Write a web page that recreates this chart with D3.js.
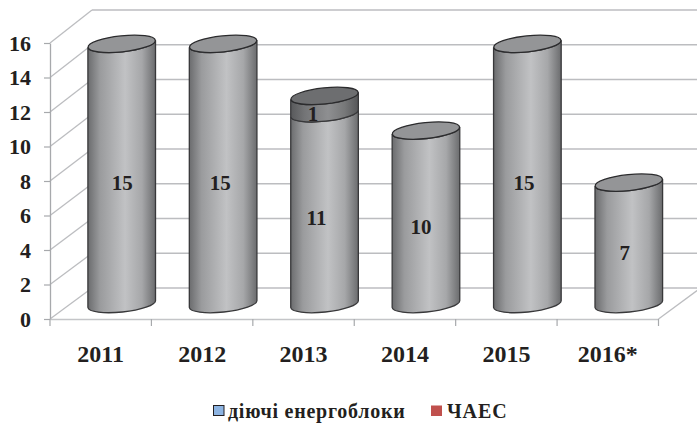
<!DOCTYPE html>
<html lang="uk">
<head>
    <meta charset="UTF-8">
    <script src="https://d3js.org/d3.v7.min.js"></script>
    <style>
        html, body { margin: 0; padding: 0; background: #fff; }
        svg { display: block; }
        text { font-family: "Liberation Serif", serif; font-weight: bold; fill: #231f20; }
    </style>
</head>
<body>
    <svg id="chart" width="697" height="423"></svg>

    <script>
        const years = ["2011", "2012", "2013", "2014", "2015", "2016*"];
        const activeUnits = [15, 15, 11, 10, 15, 7];
        const chaes = [0, 0, 1, 0, 0, 0];
        const yTicks = [0, 2, 4, 6, 8, 10, 12, 14, 16];
        const legendLabels = ["діючі енергоблоки", "ЧАЕС"];

        const svg = d3.select("#chart");
        const defs = svg.append("defs");

        // fake 3d box: front plane, back wall, and the plane the cylinders stand in
        const depthX = 42;
        const x = d3.scaleBand().domain(years).range([50, 658.5]);
        const yFront = d3.scaleLinear().domain([0, 16]).range([319, 43]);
        const yBack = d3.scaleLinear().domain([0, 16]).range([288, 10]);
        const yMid = d3.scaleLinear().domain([0, 16]).range([304, 26.5]);

        function addGradient(id, stops) {
            const g = defs.append("linearGradient").attr("id", id);
            stops.forEach(s => g.append("stop").attr("offset", s[0]).attr("stop-color", s[1]));
        }
        addGradient("bodyGrad", [[0, "#6b6c6e"], [0.18, "#9a9b9d"], [0.55, "#c1c2c4"], [0.8, "#a6a7a9"], [1, "#6b6c6e"]]);
        addGradient("topGrad", [[0, "#58595b"], [0.2, "#737476"], [0.55, "#8e8f91"], [0.8, "#777879"], [1, "#555658"]]);

        const gridColor = "#bcbdc0";

        // back wall gridlines
        svg.append("g").selectAll("line").data(yTicks).enter().append("line")
            .attr("x1", 50 + depthX).attr("x2", 697)
            .attr("y1", d => yBack(d)).attr("y2", d => yBack(d))
            .attr("stroke", gridColor).attr("stroke-width", 1.5);

        // side wall diagonals
        svg.append("g").selectAll("line").data(yTicks).enter().append("line")
            .attr("x1", 50).attr("x2", 50 + depthX)
            .attr("y1", d => yFront(d)).attr("y2", d => yBack(d))
            .attr("stroke", gridColor).attr("stroke-width", 1.3);

        // floor right edge
        svg.append("line")
            .attr("x1", 658.5).attr("y1", yFront(0))
            .attr("x2", 658.5 + depthX).attr("y2", yBack(0))
            .attr("stroke", gridColor).attr("stroke-width", 1.3);

        // y axis
        const yAxis = svg.append("g")
            .attr("transform", "translate(50,0)")
            .call(d3.axisLeft(yFront).tickValues(yTicks).tickSize(6).tickPadding(13).tickSizeOuter(0));
        yAxis.selectAll("line").attr("stroke", "#a7a9ac").attr("stroke-width", 1.2);
        yAxis.select(".domain").attr("stroke", "#a7a9ac").attr("stroke-width", 1.3);
        yAxis.selectAll("text").style("font-family", "Liberation Serif").style("font-weight", "bold")
            .style("font-size", "22px").attr("fill", "#231f20");

        // x axis, tick marks sit between the categories
        const xAxis = svg.append("g")
            .attr("transform", `translate(0,${yFront(0)})`)
            .call(d3.axisBottom(x).tickSize(0).tickPadding(26));
        xAxis.select(".domain").attr("stroke", "#c4c5c8").attr("stroke-width", 1.3);
        xAxis.selectAll("text").style("font-family", "Liberation Serif").style("font-weight", "bold")
            .style("font-size", "24px").attr("fill", "#231f20");
        xAxis.selectAll(".edge").data(x.domain().map(d => x(d)).concat(x.range()[1])).enter().append("line")
            .attr("class", "edge")
            .attr("x1", d => d).attr("x2", d => d)
            .attr("y1", 0).attr("y2", 7)
            .attr("stroke", "#a7a9ac").attr("stroke-width", 1.2);

        // cylinders
        const rx = x.bandwidth() / 3;
        const ry = 8;
        const tilt = -6;
        const lift = rx * Math.sin(-tilt * Math.PI / 180);
        const rows = years.map((y, i) => ({ year: y, active: activeUnits[i], chaes: chaes[i] }));
        const stacked = d3.stack().keys(["active", "chaes"])(rows);
        const labelNudge = [0.5, -3, -8, -5, -3.5, -4];

        years.forEach((year, i) => {
            const cx = x(year) + x.bandwidth() / 2 + depthX / 2;
            const g = svg.append("g");

            stacked.forEach(layer => {
                const [v0, v1] = layer[i];
                if (v1 === v0) return;
                const isActive = layer.key === "active";
                const y0 = yMid(v0), y1 = yMid(v1);
                const body = `M${cx - rx},${y1 + lift}L${cx - rx},${y0 + lift}` +
                    `A${rx},${ry} ${tilt} 0 0 ${cx + rx},${y0 - lift}` +
                    `L${cx + rx},${y1 - lift}` +
                    `A${rx},${ry} ${tilt} 0 1 ${cx - rx},${y1 + lift}Z`;
                g.append("path").attr("d", body)
                    .attr("fill", isActive ? "url(#bodyGrad)" : "url(#topGrad)")
                    .attr("stroke", "#38383a").attr("stroke-width", 1.3);
            });

            // lid on top of the stack
            const total = activeUnits[i] + chaes[i];
            g.append("ellipse")
                .attr("cx", cx).attr("cy", yMid(total))
                .attr("rx", rx).attr("ry", ry)
                .attr("transform", `rotate(${tilt},${cx},${yMid(total)})`)
                .attr("fill", chaes[i] > 0 ? "#6d6e70" : "#949597")
                .attr("stroke", "#2b2b2d").attr("stroke-width", 1.3);

            // value labels
            stacked.forEach(layer => {
                const [v0, v1] = layer[i];
                if (v1 === v0) return;
                g.append("text")
                    .attr("x", cx + labelNudge[i] + (layer.key === "chaes" ? -3.5 : 0))
                    .attr("y", yMid((v0 + v1) / 2) + 9)
                    .attr("dy", "0.35em")
                    .attr("text-anchor", "middle")
                    .style("font-size", "21px")
                    .text(v1 - v0);
            });
        });

        // legend
        const legendY = 418;
        svg.append("rect").attr("x", 213.5).attr("y", 405.5).attr("width", 10.5).attr("height", 10)
            .attr("fill", "#8db4e2").attr("stroke", "#231f20").attr("stroke-width", 1);
        svg.append("text").attr("x", 228).attr("y", legendY)
            .style("font-size", "20px").style("letter-spacing", "0.75px").text(legendLabels[0]);
        svg.append("rect").attr("x", 431).attr("y", 405.5).attr("width", 11).attr("height", 10.5)
            .attr("fill", "#c0504d");
        svg.append("text").attr("x", 447).attr("y", legendY)
            .style("font-size", "20px").style("letter-spacing", "0.9px").text(legendLabels[1]);
    </script>
</body>
</html>
